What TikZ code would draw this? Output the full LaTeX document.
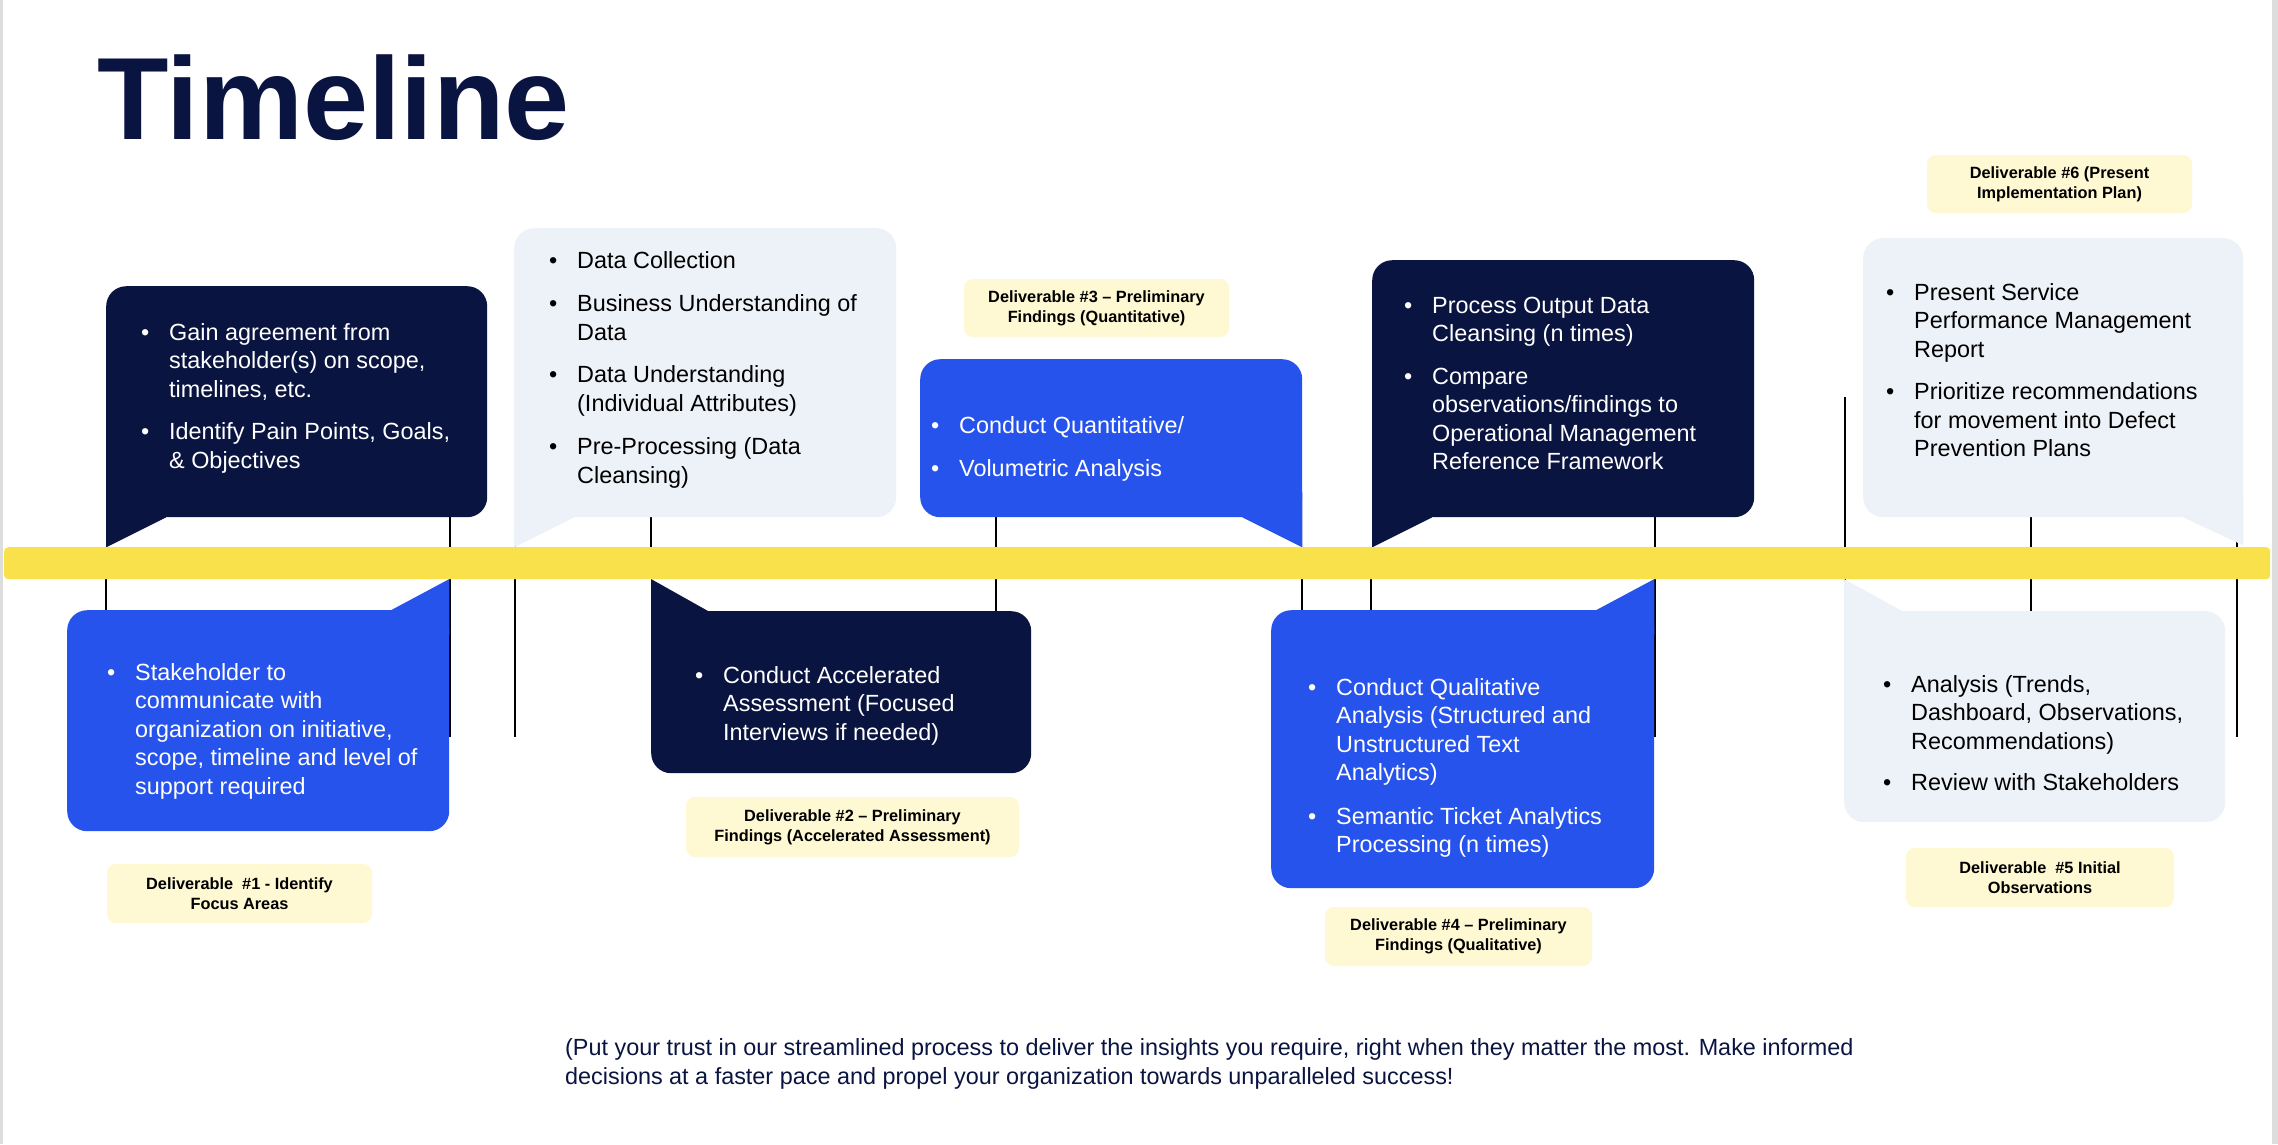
\documentclass[tikz,border=0pt]{standalone}
\usepackage{fontspec}
\setmainfont{Liberation Sans}
\definecolor{navy}{HTML}{0A1440}
\definecolor{cblue}{HTML}{2653EB}
\definecolor{clight}{HTML}{EDF1F8}
\definecolor{cyel}{HTML}{F9E14B}
\definecolor{cdel}{HTML}{FEF8D3}
\definecolor{cgrey}{HTML}{DDDDDD}
\newcommand{\blist}[1]{\fontsize{23.4}{28.5}\selectfont\begin{tabular}[t]{@{}l@{}l@{}}#1\end{tabular}}
\newcommand{\bul}{\makebox[28pt][l]{•}}
\begin{document}
\begin{tikzpicture}[x=1pt,y=-1pt,
  box/.style={rectangle,rounded corners=20pt,inner sep=0pt,anchor=north west},
  txt/.style={inner sep=0pt,anchor=base west},
  deliv/.style={rectangle,rounded corners=9pt,fill=cdel,inner sep=0pt,align=center,
    font=\fontsize{16.3}{20}\selectfont\bfseries,text=black},
  tick/.style={draw=black,line width=2pt}]
\useasboundingbox (0,0) rectangle (2278,1144);
\fill[white] (0,0) rectangle (2278,1144);
\fill[cgrey] (0,0) rectangle (3,1144);
\fill[cgrey] (2272,0) rectangle (2278,1144);

% title
\node[txt,text=navy,font=\fontsize{117}{130}\selectfont\bfseries] (title) at (97,139) {Timeline};

% tick lines
\draw[tick] (106,579) -- (106,610);
\draw[tick] (450,517) -- (450,737);
\draw[tick] (515,546) -- (515,737);
\draw[tick] (651,517) -- (651,547);
\draw[tick] (996,517) -- (996,611);
\draw[tick] (1302,579) -- (1302,610);
\draw[tick] (1371,579) -- (1371,610);
\draw[tick] (1655,517) -- (1655,737);
\draw[tick] (1845,397) -- (1845,734);
\draw[tick] (2031,517) -- (2031,611);
\draw[tick] (2237,540) -- (2237,737);

% above-bar callouts
\node[box,fill=navy,minimum width=381pt,minimum height=231pt] (a1) at (106,286) {};
\fill[navy] (a1.south west) -- ++(0,30) -- ++(60,-30) -- ++(0,-25) -- ++(-60,0) -- cycle;
\node[box,fill=clight,minimum width=382pt,minimum height=289pt] (a2) at (514,228) {};
\fill[clight] (a2.south west) -- ++(0,30) -- ++(60,-30) -- ++(0,-25) -- ++(-60,0) -- cycle;
\node[box,fill=cblue,minimum width=382pt,minimum height=158pt] (a3) at (920,359) {};
\fill[cblue] (a3.south east) -- ++(0,30) -- ++(-60,-30) -- ++(0,-25) -- ++(60,0) -- cycle;
\node[box,fill=navy,minimum width=382pt,minimum height=257pt] (a4) at (1372,260) {};
\fill[navy] (a4.south west) -- ++(0,30) -- ++(60,-30) -- ++(0,-25) -- ++(-60,0) -- cycle;
\node[box,fill=clight,minimum width=380pt,minimum height=279pt] (a5) at (1863,238) {};
\fill[clight] (a5.south east) -- ++(0,28) -- ++(-60,-28) -- ++(0,-25) -- ++(60,0) -- cycle;

% below-bar callouts
\node[box,fill=cblue,minimum width=382pt,minimum height=221pt] (b1) at (67,610) {};
\fill[cblue] (b1.north east) -- ++(0,-31) -- ++(-58,31) -- ++(0,25) -- ++(58,0) -- cycle;
\node[box,fill=navy,minimum width=380pt,minimum height=162pt] (b2) at (651,611) {};
\fill[navy] (b2.north west) -- ++(0,-32) -- ++(57,32) -- ++(0,25) -- ++(-57,0) -- cycle;
\node[box,fill=cblue,minimum width=383pt,minimum height=278pt] (b4) at (1271,610) {};
\fill[cblue] (b4.north east) -- ++(0,-31) -- ++(-58,31) -- ++(0,25) -- ++(58,0) -- cycle;
\node[box,fill=clight,minimum width=381pt,minimum height=211pt] (b5) at (1844,611) {};
\fill[clight] (b5.north west) -- ++(0,-32) -- ++(58,32) -- ++(0,25) -- ++(-58,0) -- cycle;

% bar
\node[rectangle,rounded corners=4pt,fill=cyel,inner sep=0pt,anchor=north west,
  minimum width=2266pt,minimum height=32pt] (bar) at (4,547) {};

% texts
\node[txt,text=white] (ta1) at (141,340) {\blist{\bul & Gain agreement from\\ & stakeholder(s) on scope,\\ & timelines, etc.\\[14pt]
\bul & Identify Pain Points, Goals,\\ & \& Objectives}};
\node[txt,text=black] (ta2) at (549,268) {\blist{\bul & Data Collection\\[15pt]
\bul & Business Understanding of\\ & Data\\[14pt]
\bul & Data Understanding\\ & (Individual Attributes)\\[15pt]
\bul & Pre-Processing (Data\\ & Cleansing)}};
\node[txt,text=white] (ta3) at (931,433) {\blist{\bul & Conduct Quantitative/\\[15pt]
\bul & Volumetric Analysis}};
\node[txt,text=white] (ta4) at (1404,313) {\blist{\bul & Process Output Data\\ & Cleansing (n times)\\[14pt]
\bul & Compare\\ & observations/findings to\\ & Operational Management\\ & Reference Framework}};
\node[txt,text=black] (ta5) at (1886,300) {\blist{\bul & Present Service\\ & Performance Management\\ & Report\\[14pt]
\bul & Prioritize recommendations\\ & for movement into Defect\\ & Prevention Plans}};
\node[txt,text=white] (tb1) at (107,680) {\blist{\bul & Stakeholder to\\ & communicate with\\ & organization on initiative,\\ & scope, timeline and level of\\ & support required}};
\node[txt,text=white] (tb2) at (695,683) {\blist{\bul & Conduct Accelerated\\ & Assessment (Focused\\ & Interviews if needed)}};
\node[txt,text=white] (tb4) at (1308,695) {\blist{\bul & Conduct Qualitative\\ & Analysis (Structured and\\ & Unstructured Text\\ & Analytics)\\[15pt]
\bul & Semantic Ticket Analytics\\ & Processing (n times)}};
\node[txt,text=black] (tb5) at (1883,692) {\blist{\bul & Analysis (Trends,\\ & Dashboard, Observations,\\ & Recommendations)\\[13pt]
\bul & Review with Stakeholders}};

% deliverables
\node[deliv,minimum width=265pt,minimum height=59pt] (d1) at (239.5,893.5) {Deliverable\ \ \#1 - Identify\\Focus Areas};
\node[deliv,minimum width=333pt,minimum height=60pt] (d2) at (852.5,827) {Deliverable \#2 – Preliminary\\Findings (Accelerated Assessment)};
\node[deliv,minimum width=265pt,minimum height=58pt] (d3) at (1096.5,308) {Deliverable \#3 – Preliminary\\Findings (Quantitative)};
\node[deliv,minimum width=267pt,minimum height=59pt] (d4) at (1458.5,936.5) {Deliverable \#4 – Preliminary\\Findings (Qualitative)};
\node[deliv,minimum width=268pt,minimum height=59pt] (d5) at (2040,877.5) {Deliverable\ \ \#5 Initial\\Observations};
\node[deliv,minimum width=265pt,minimum height=58pt] (d6) at (2059.5,184) {Deliverable \#6 (Present\\Implementation Plan)};

% footer
\node[txt,text=navy,align=left,font=\fontsize{23.4}{29}\selectfont] (foot) at (565,1084) {(Put your trust in our streamlined process to deliver the insights you require, right when they matter the most. Make informed\\decisions at a faster pace and propel your organization towards unparalleled success!};
\end{tikzpicture}
\end{document}
